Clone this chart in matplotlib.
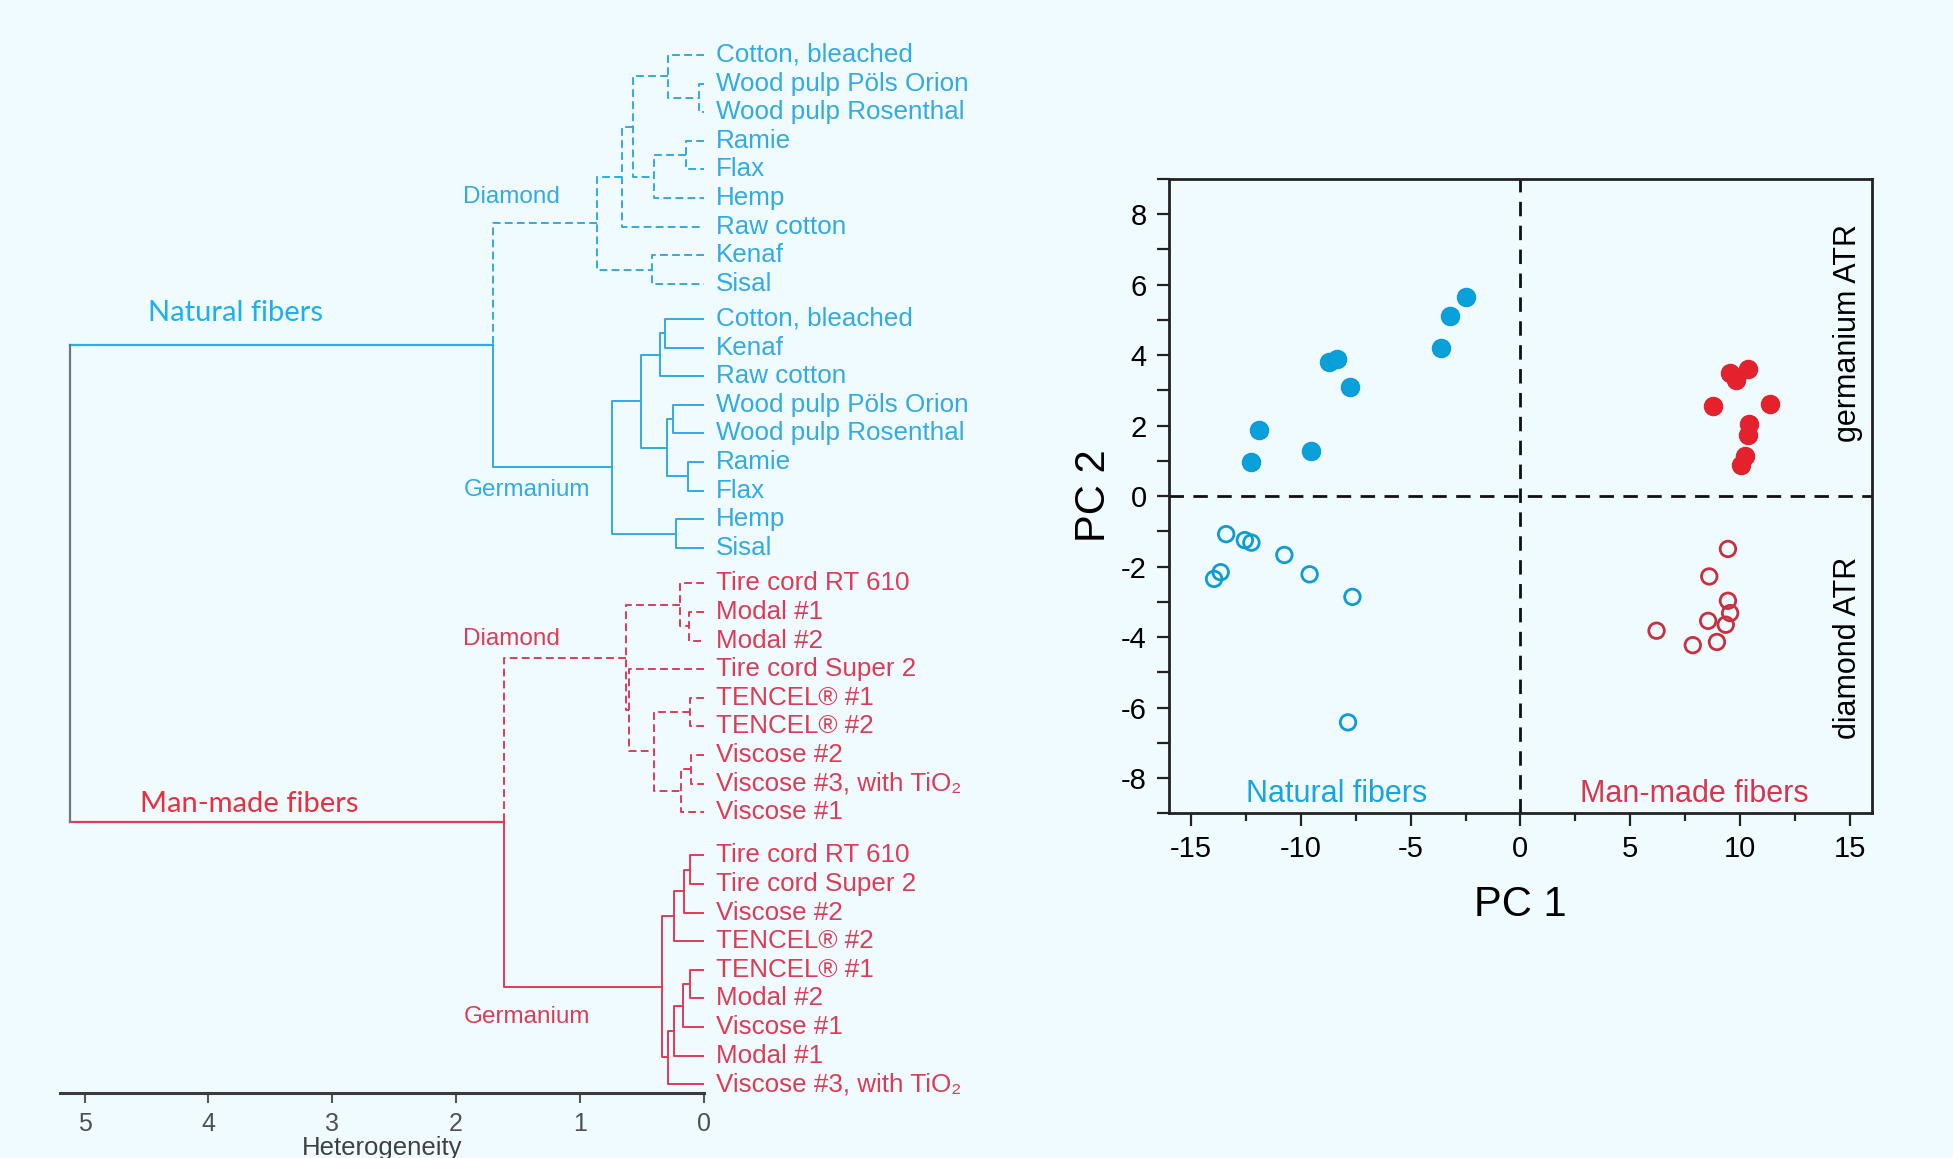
import matplotlib
matplotlib.use('Agg')
import matplotlib.pyplot as plt
from matplotlib.ticker import MultipleLocator

plt.rcParams['font.family'] = ['Liberation Sans', 'DejaVu Sans']

# ---------------- dendrogram data ----------------
nat_diamond_leaves = ['Cotton, bleached', 'Wood pulp Pöls Orion', 'Wood pulp Rosenthal',
                      'Ramie', 'Flax', 'Hemp', 'Raw cotton', 'Kenaf', 'Sisal']
nat_germanium_leaves = ['Cotton, bleached', 'Kenaf', 'Raw cotton', 'Wood pulp Pöls Orion',
                        'Wood pulp Rosenthal', 'Ramie', 'Flax', 'Hemp', 'Sisal']
mm_diamond_leaves = ['Tire cord RT 610', 'Modal #1', 'Modal #2', 'Tire cord Super 2',
                     'TENCEL® #1', 'TENCEL® #2', 'Viscose #2', 'Viscose #3, with TiO₂', 'Viscose #1']
mm_germanium_leaves = ['Tire cord RT 610', 'Tire cord Super 2', 'Viscose #2', 'TENCEL® #2',
                       'TENCEL® #1', 'Modal #2', 'Viscose #1', 'Modal #1', 'Viscose #3, with TiO₂']

# (height, left, right) with leaf indices inside each group
nat_diamond_tree = (0.86, (0.66, (0.57, (0.29, 0, (0.04, 1, 2)), (0.40, (0.145, 3, 4), 5)), 6), (0.42, 7, 8))
nat_germanium_tree = (0.74, (0.505, (0.355, (0.315, 0, 1), 2), (0.30, (0.25, 3, 4), (0.13, 5, 6))), (0.22, 7, 8))
mm_diamond_tree = (0.63, (0.19, 0, (0.12, 1, 2)), (0.60, 3, (0.40, (0.11, 4, 5), (0.18, (0.10, 6, 7), 8))))
mm_germanium_tree = (0.335, (0.24, (0.155, (0.11, 0, 1), 2), 3), (0.29, (0.24, (0.165, (0.11, 4, 5), 6), 7), 8))

natural_height = 1.70
manmade_height = 1.61
root_height = 5.12

# ---------------- PCA scores ----------------
nat_ge_pc1 = [-2.5, -3.2, -3.6, -8.7, -8.35, -7.75, -11.9, -12.25, -9.55]
nat_ge_pc2 = [5.65, 5.1, 4.2, 3.8, 3.88, 3.1, 1.87, 0.97, 1.29]
nat_di_pc1 = [-13.4, -12.55, -12.25, -10.75, -9.6, -13.65, -13.95, -7.65, -7.85]
nat_di_pc2 = [-1.08, -1.25, -1.32, -1.67, -2.22, -2.16, -2.35, -2.86, -6.42]
mm_ge_pc1 = [9.55, 10.35, 9.8, 8.75, 11.35, 10.4, 10.35, 10.25, 10.05]
mm_ge_pc2 = [3.5, 3.6, 3.3, 2.55, 2.62, 2.05, 1.72, 1.15, 0.88]
mm_di_pc1 = [9.45, 8.6, 9.45, 9.55, 8.55, 9.35, 6.2, 7.85, 8.95]
mm_di_pc2 = [-1.5, -2.28, -2.97, -3.32, -3.54, -3.65, -3.82, -4.23, -4.14]

# colours
bg = '#EFFBFE'
blue = '#33AAE0'
red = '#E03B55'
dash = (0, (4, 2.2))


def draw_tree(ax, node, ypos, color, ls):
    # returns (y, height) of node
    if isinstance(node, int):
        return ypos[node], 0.0
    h, a, b = node
    ya, ha = draw_tree(ax, a, ypos, color, ls)
    yb, hb = draw_tree(ax, b, ypos, color, ls)
    ax.plot([ha, h, h, hb], [ya, ya, yb, yb], color=color, ls=ls, lw=1.4,
            solid_capstyle='butt', dash_capstyle='butt')
    return (ya + yb) / 2, h


fig = plt.figure(figsize=(19.53, 11.58), dpi=100, facecolor=bg)

# =============== dendrogram ===============
ax1 = fig.add_axes([0.0306, 0.0557, 0.3297, 0.9097])
ax1.set_facecolor('none')
ax1.set_xlim(5.2, 0)
ax1.set_ylim(36.27, -0.52)

groups = [(nat_diamond_leaves, nat_diamond_tree, blue, dash, 0.0),
          (nat_germanium_leaves, nat_germanium_tree, blue, '-', 0.22),
          (mm_diamond_leaves, mm_diamond_tree, red, dash, 0.45),
          (mm_germanium_leaves, mm_germanium_tree, red, '-', 0.95)]
tops = []
for g, (leaves, tree, col, ls, off) in enumerate(groups):
    ypos = [g * 9 + i + off for i in range(len(leaves))]
    for y, name in zip(ypos, leaves):
        ax1.text(-0.1, y, name, color=col, fontsize=18.7, va='center', ha='left', clip_on=False)
    tops.append(draw_tree(ax1, tree, ypos, col, ls))

# join methods within fiber class
y_nat = (tops[0][0] + tops[1][0]) / 2
y_mm = (tops[2][0] + tops[3][0]) / 2
ax1.plot([tops[0][1], natural_height, natural_height], [tops[0][0], tops[0][0], y_nat],
         color=blue, ls=dash, lw=1.4)
ax1.plot([tops[1][1], natural_height, natural_height], [tops[1][0], tops[1][0], y_nat],
         color=blue, lw=1.4)
ax1.plot([tops[2][1], manmade_height, manmade_height], [tops[2][0], tops[2][0], y_mm],
         color=red, ls=dash, lw=1.4)
ax1.plot([tops[3][1], manmade_height, manmade_height], [tops[3][0], tops[3][0], y_mm],
         color=red, lw=1.4)
# root
ax1.plot([natural_height, root_height], [y_nat, y_nat], color=blue, lw=1.6)
ax1.plot([manmade_height, root_height], [y_mm, y_mm], color=red, lw=1.6)
ax1.plot([root_height, root_height], [y_nat, y_mm], color='#6E7882', lw=1.6)

ax1.text(1.94, 4.96, 'Diamond', color=blue, fontsize=17.5, va='center')
ax1.text(1.94, 15.2, 'Germanium', color=blue, fontsize=17.5, va='center')
ax1.text(1.94, 20.4, 'Diamond', color=red, fontsize=17.5, va='center')
ax1.text(1.94, 33.6, 'Germanium', color=red, fontsize=17.5, va='center')
ax1.text(4.49, 9.0, 'Natural fibers', color='#1EB0EC', fontsize=21, family='Lato', va='center')
ax1.text(4.55, 26.15, 'Man-made fibers', color='#E8303F', fontsize=21, family='Lato', va='center')

for s in ['left', 'right', 'top']:
    ax1.spines[s].set_visible(False)
ax1.spines['bottom'].set_color('#3C3C3C')
ax1.spines['bottom'].set_linewidth(2.2)
ax1.set_yticks([])
ax1.set_xticks([5, 4, 3, 2, 1, 0])
ax1.tick_params(axis='x', direction='out', length=7, width=1.5, color='#555555',
                labelsize=18, labelcolor='#505050', pad=6)
ax1.set_xlabel('Heterogeneity', fontsize=18.5, color='#404040', labelpad=0)

# =============== PCA scores ===============
ax2 = fig.add_axes([0.5986, 0.2977, 0.3598, 0.5478])
ax2.set_facecolor('none')
ax2.set_xlim(-16, 16)
ax2.set_ylim(-9, 9)
ax2.axhline(0, color='#111111', lw=2.0, ls=(0, (5.2, 3.4)), zorder=1)
ax2.axvline(0, color='#111111', lw=2.0, ls=(0, (5.2, 3.4)), zorder=1)

ax2.scatter(nat_ge_pc1, nat_ge_pc2, s=175, color='#0AA0DA', edgecolor='#0A9AD4', lw=0.8, zorder=3)
ax2.scatter(nat_di_pc1, nat_di_pc2, s=125, facecolor='none', edgecolor='#0E9CD2', lw=2.0, zorder=3)
ax2.scatter(mm_ge_pc1, mm_ge_pc2, s=175, color='#E5222C', edgecolor='#DC2230', lw=0.8, zorder=3)
ax2.scatter(mm_di_pc1, mm_di_pc2, s=125, facecolor='none', edgecolor='#C9303F', lw=2.0, zorder=3)

for s in ax2.spines.values():
    s.set_linewidth(2.0)
    s.set_color('#222222')
ax2.xaxis.set_major_locator(MultipleLocator(5))
ax2.xaxis.set_minor_locator(MultipleLocator(2.5))
ax2.yaxis.set_major_locator(MultipleLocator(2))
ax2.yaxis.set_minor_locator(MultipleLocator(1))
ax2.tick_params(which='both', direction='out', width=1.6, color='#222222',
                top=False, right=False, labelsize=21, pad=7)
ax2.tick_params(axis='x', which='major', length=9)
ax2.tick_params(axis='x', which='minor', length=6)
ax2.tick_params(axis='y', which='both', length=9)
ax2.set_xticklabels([f'{int(v)}' for v in ax2.get_xticks()])
ax2.set_yticklabels([f'{int(v)}' for v in ax2.get_yticks()])
ax2.set_xlim(-16, 16)
ax2.set_ylim(-9, 9)

ax2.text(-0.107, 0.5, 'PC 2', rotation=90, fontsize=30, ha='center', va='center',
         transform=ax2.transAxes)
ax2.text(0.5, -0.145, 'PC 1', fontsize=30, ha='center', va='center', transform=ax2.transAxes)
ax2.text(14.9, 4.64, 'germanium ATR', rotation=90, fontsize=22, ha='center', va='center')
ax2.text(14.9, -4.31, 'diamond ATR', rotation=90, fontsize=22, ha='center', va='center')
ax2.text(-8.36, -8.45, 'Natural fibers', color='#1AA4DE', fontsize=22, ha='center', va='center')
ax2.text(7.93, -8.45, 'Man-made fibers', color='#D8354E', fontsize=22, ha='center', va='center')

fig.savefig('out.png', dpi=100, facecolor=bg)
